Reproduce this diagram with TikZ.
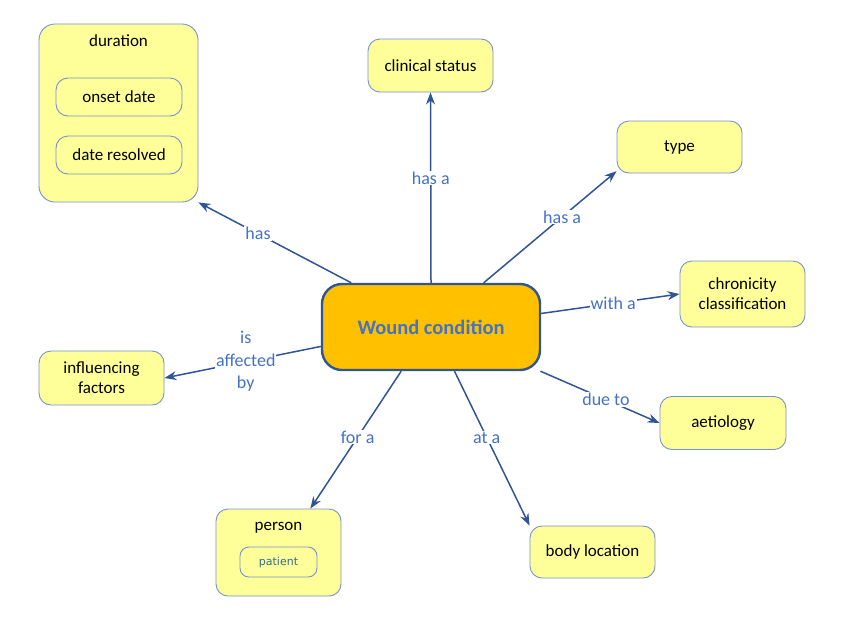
\documentclass[tikz,border=0pt]{standalone}
\usepackage{fontspec}
\setmainfont{Carlito}
\newfontfamily\smallsans{DejaVu Sans}
\usepackage{tikz}
\usetikzlibrary{shapes.geometric, arrows.meta}
\definecolor{conceptfill}{RGB}{255,255,153}
\definecolor{conceptline}{RGB}{118,146,204}
\definecolor{linkline}{RGB}{47,85,151}
\definecolor{linktext}{RGB}{68,114,196}
\definecolor{corefill}{RGB}{255,192,0}
\definecolor{patienttext}{RGB}{46,110,142}
\tikzstyle{concept}   = [rectangle, rounded corners=12pt, minimum width=125pt, minimum height=53pt, text centered, align=center, draw=conceptline, line width=0.9pt, fill=conceptfill, font=\fontsize{17}{20}\selectfont]
\tikzstyle{inner}     = [rectangle, rounded corners=12pt, minimum width=126pt, minimum height=38pt, text centered, draw=conceptline, line width=0.9pt, fill=conceptfill, font=\fontsize{17}{20}\selectfont]
\tikzstyle{title}     = [font=\fontsize{17}{20}\selectfont]
\tikzstyle{core}      = [rectangle, rounded corners=20pt, minimum width=218pt, minimum height=86pt, text centered, draw=linkline, line width=2.4pt, fill=corefill, text=linktext, font=\fontsize{20.5}{24}\selectfont\bfseries]
\tikzstyle{arrow}     = [line width=1.5pt, draw=linkline, ->, >={Stealth[length=12pt,width=9pt]}]
\tikzstyle{link}      = [fill=white, text=linktext, inner sep=1pt, align=center, font=\fontsize{18}{22.5}\selectfont]

\begin{document}
\begin{tikzpicture}[x=1pt, y=-1pt]

    \useasboundingbox (0,0) rectangle (842,622);

    \node (wound)    [core]                                    at (431,327)   {Wound condition};

    \node (duration) [concept, minimum height=178pt, minimum width=159pt, rounded corners=16pt] at (118.5,113) {};
    \node (durtitle) [title]                                   at (118.5,41)  {duration};
    \node (onset)    [inner]                                   at (119,97)    {onset date};
    \node (resolved) [inner]                                   at (119,155)   {date resolved};

    \node (clinical) [concept]                                 at (430.5,65.5) {clinical status};
    \node (type)     [concept, minimum height=52pt]            at (679.5,147) {type};
    \node (chron)    [concept, minimum height=66pt]            at (742.5,294) {chronicity\\classification};
    \node (aetio)    [concept, minimum width=126pt]            at (723,423) {aetiology};
    \node (bodyloc)  [concept, minimum height=52pt]            at (592.5,552) {body location};
    \node (influ)    [concept, minimum height=54pt]            at (101.5,378) {influencing\\factors};

    \node (person)   [concept, minimum height=87pt]            at (278.5,552.5) {};
    \node (perstitle)[title]                                   at (278.5,528) {person};
    \node (patient)  [inner, minimum width=77pt, minimum height=30pt, rounded corners=9pt, text=patienttext, font=\smallsans\fontsize{11}{13}\selectfont] at (278.5,562) {patient};

    \draw [arrow] (wound.151.5) -- node[link, pos=0.61] {has} (duration.south east);
    \draw [arrow] (wound.north) -- node[link, pos=0.55] {has a} (clinical.south);
    \draw [arrow] (wound.40.2) -- node[link, pos=0.59] {has a} (type.201.6);
    \draw [arrow] (wound.7.3) -- node[link, pos=0.52] {with a} (chron.west);
    \draw [arrow] (wound.-22.8) -- node[link, pos=0.55] {due to} (aetio.west);
    \draw [arrow] (wound.-62.4) -- node[link, pos=0.43] {at a} (bodyloc.north west);
    \draw [arrow] (wound.-124.3) -- node[link, pos=0.48] {for a} (person.54.7);
    \draw [arrow] (wound.190.9) -- node[link, pos=0.48] {is\\affected\\by} (influ.east);

\end{tikzpicture}
\end{document}
